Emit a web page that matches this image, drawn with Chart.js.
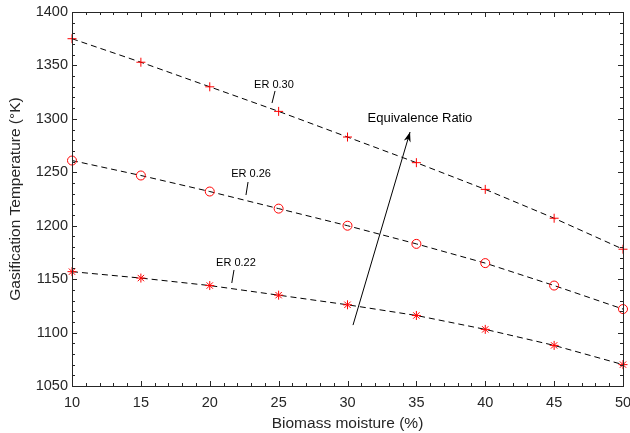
<!DOCTYPE html>
<html>
<head>
<meta charset="utf-8">
<script src="https://cdn.jsdelivr.net/npm/chart.js@4.4.0/dist/chart.umd.min.js"></script>
<style>
    html, body { margin: 0; padding: 0; background: #fff; }
    #wrap { width: 630px; height: 433px; }
</style>
</head>
<body>
<div id="wrap"><canvas id="myChart" width="630" height="433"></canvas></div>
<script>
// biomass moisture (%)
const moisture = [10, 15, 20, 25, 30, 35, 40, 45, 50];
// gasification temperature (K) for each equivalence ratio
const er030 = [1375, 1353, 1330, 1307, 1283, 1259, 1234, 1207, 1178];
const er026 = [1261, 1247, 1232, 1216, 1200, 1183, 1165, 1144, 1122];
const er022 = [1157, 1151, 1144, 1135, 1126, 1116, 1103, 1088, 1070];
const seriesNames = ['ER 0.30', 'ER 0.26', 'ER 0.22'];

const FONT = '"Liberation Sans", Arial, Helvetica, sans-serif';
const INK = '#262626';

function toPoints(values) {
    return moisture.map((m, i) => ({ x: m, y: values[i] }));
}

function makeSet(label, values, style) {
    return {
        label: label,
        data: toPoints(values),
        borderColor: '#000',
        borderWidth: 1,
        borderDash: [6, 4],
        pointStyle: style,
        pointRadius: 4.5,
        pointBorderColor: '#ff0000',
        pointBackgroundColor: 'rgba(0,0,0,0)',
        pointBorderWidth: 1,
        fill: false,
        tension: 0,
        clip: false,
    };
}

// inward ticks on all four sides plus the box around the plot
const boxTicks = {
    id: 'boxTicks',
    afterDraw(chart) {
        const { ctx, chartArea: a, scales: { x, y } } = chart;
        ctx.save();
        ctx.strokeStyle = INK;
        ctx.lineWidth = 1;
        ctx.beginPath();
        for (let v = 10; v <= 50; v++) {
            let px = Math.round(x.getPixelForValue(v)) + 0.5;
            let len = v % 5 === 0 ? 5 : 3;
            ctx.moveTo(px, a.bottom); ctx.lineTo(px, a.bottom - len);
            ctx.moveTo(px, a.top); ctx.lineTo(px, a.top + len);
        }
        for (let v = 1050; v <= 1400; v += 10) {
            let py = Math.round(y.getPixelForValue(v)) + 0.5;
            let len = v % 50 === 0 ? 5 : 3;
            ctx.moveTo(a.left, py); ctx.lineTo(a.left + len, py);
            ctx.moveTo(a.right, py); ctx.lineTo(a.right - len, py);
        }
        ctx.stroke();
        ctx.strokeRect(Math.round(a.left) + 0.5, Math.round(a.top) + 0.5,
            Math.round(a.right - a.left), Math.round(a.bottom - a.top));
        ctx.restore();
    }
};

// text labels, leaders and arrow placed in data coordinates
const notes = [
    { text: seriesNames[0], at: [24.66, 1331.7], leader: [[24.74, 1326.1], [24.52, 1314.8]] },
    { text: seriesNames[1], at: [23.0, 1248.4], leader: [[22.78, 1240.9], [22.63, 1228.7]] },
    { text: seriesNames[2], at: [21.9, 1165.1], leader: [[21.76, 1158.6], [21.6, 1146.4]] },
];
const arrow = { from: [30.4, 1107], to: [34.54, 1287.7], text: 'Equivalence Ratio', at: [35.26, 1300.8] };

const annotations = {
    id: 'annotations',
    afterDatasetsDraw(chart) {
        const { ctx, scales: { x, y } } = chart;
        const P = p => [x.getPixelForValue(p[0]), y.getPixelForValue(p[1])];
        ctx.save();
        ctx.fillStyle = '#000';
        ctx.strokeStyle = '#000';
        ctx.lineWidth = 1;
        ctx.font = '11px ' + FONT;
        ctx.textAlign = 'center';
        ctx.textBaseline = 'middle';
        for (let n of notes) {
            let [tx, ty] = P(n.at);
            ctx.fillText(n.text, tx, ty);
            let [x1, y1] = P(n.leader[0]);
            let [x2, y2] = P(n.leader[1]);
            ctx.beginPath();
            ctx.moveTo(x1, y1); ctx.lineTo(x2, y2);
            ctx.stroke();
        }
        let [ax, ay] = P(arrow.from);
        let [bx, by] = P(arrow.to);
        ctx.beginPath();
        ctx.moveTo(ax, ay); ctx.lineTo(bx, by);
        ctx.stroke();
        let ang = Math.atan2(by - ay, bx - ax);
        let hl = 10, hw = 3.5;
        ctx.beginPath();
        ctx.moveTo(bx, by);
        ctx.lineTo(bx - hl * Math.cos(ang) + hw * Math.sin(ang), by - hl * Math.sin(ang) - hw * Math.cos(ang));
        ctx.lineTo(bx - hl * 0.7 * Math.cos(ang), by - hl * 0.7 * Math.sin(ang));
        ctx.lineTo(bx - hl * Math.cos(ang) - hw * Math.sin(ang), by - hl * Math.sin(ang) + hw * Math.cos(ang));
        ctx.closePath();
        ctx.fill();
        ctx.font = '13px ' + FONT;
        let [ex, ey] = P(arrow.at);
        ctx.fillText(arrow.text, ex, ey);
        ctx.restore();
    }
};

const ctx = document.getElementById('myChart').getContext('2d');

const config = {
    type: 'line',
    data: {
        datasets: [
            makeSet(seriesNames[0], er030, 'cross'),
            makeSet(seriesNames[1], er026, 'circle'),
            makeSet(seriesNames[2], er022, 'star'),
        ]
    },
    options: {
        responsive: false,
        animation: false,
        layout: { padding: { top: 12, right: 7, left: 0, bottom: 0 } },
        plugins: {
            legend: { display: false },
            tooltip: { enabled: false },
        },
        scales: {
            x: {
                type: 'linear',
                min: 10,
                max: 50,
                grid: { display: false, drawTicks: false },
                border: { display: false },
                ticks: {
                    stepSize: 5,
                    color: INK,
                    padding: 8,
                    font: { family: FONT, size: 14.5 },
                    callback: v => String(v),
                },
                title: {
                    display: true,
                    text: 'Biomass moisture (%)',
                    color: INK,
                    padding: { top: 1, bottom: 0 },
                    font: { family: FONT, size: 15.5 },
                },
                afterFit(scale) {
                    scale.height = 47;
                    scale.paddingLeft = 0;
                    scale.paddingRight = 0;
                }
            },
            y: {
                min: 1050,
                max: 1400,
                grid: { display: false, drawTicks: false },
                border: { display: false },
                ticks: {
                    stepSize: 50,
                    color: INK,
                    padding: 4,
                    font: { family: FONT, size: 14.5 },
                    callback: v => String(v),
                },
                title: {
                    display: true,
                    text: 'Gasification Temperature (°K)',
                    color: INK,
                    padding: { top: 6, bottom: 4 },
                    font: { family: FONT, size: 15.5 },
                },
                afterFit(scale) {
                    scale.width = 72;
                    scale.paddingTop = 0;
                    scale.paddingBottom = 0;
                }
            }
        }
    },
    plugins: [boxTicks, annotations]
};

const chart = new Chart(ctx, config);
</script>
</body>
</html>
